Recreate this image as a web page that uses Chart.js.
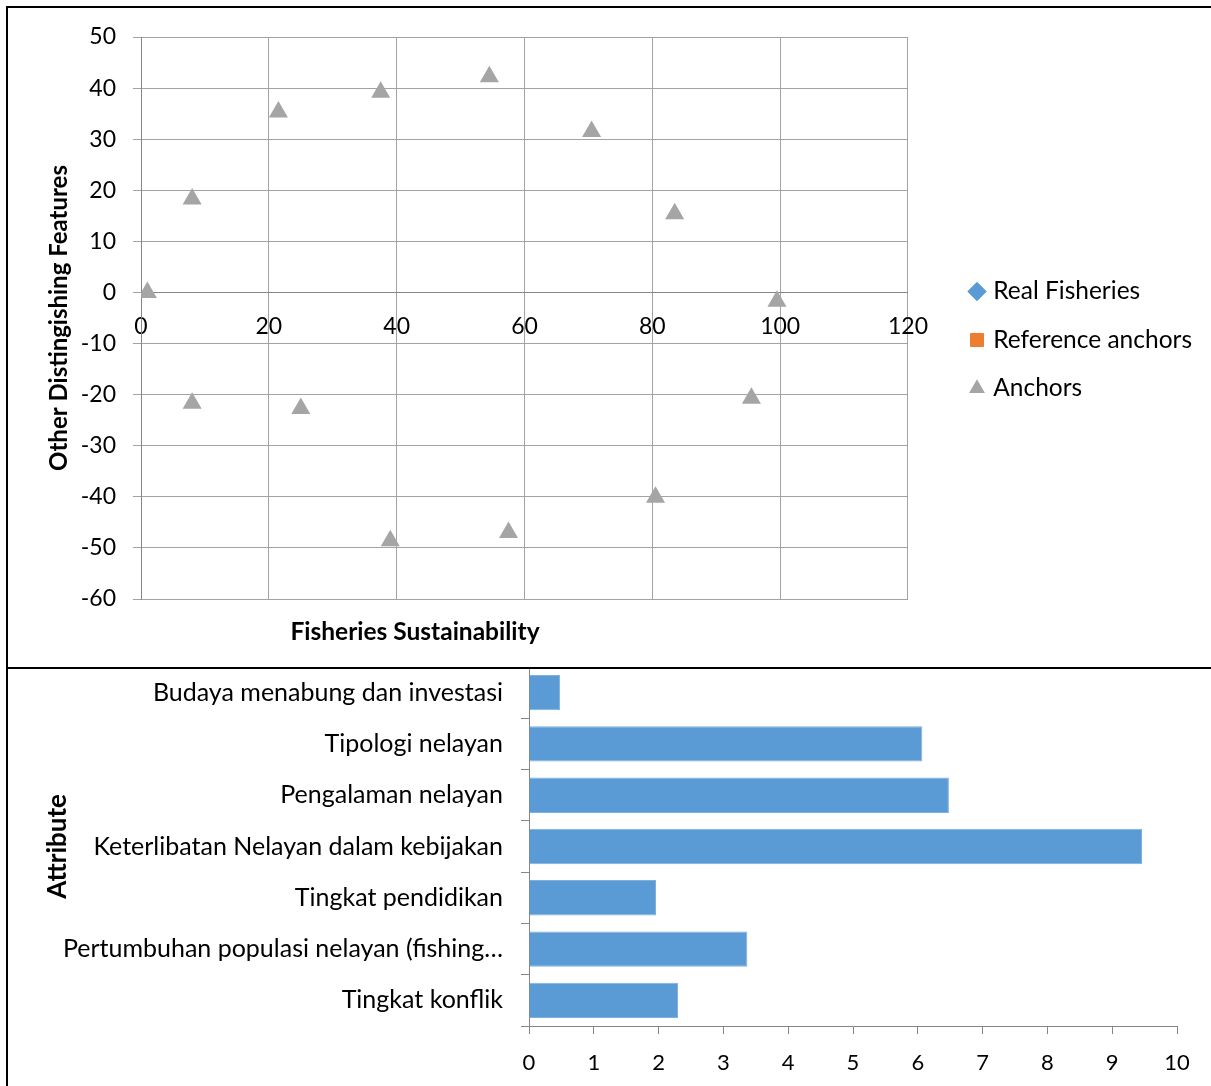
<!DOCTYPE html>
<html>
<head>
<meta charset="utf-8">
<title>RAPFISH ordination and leverage</title>
<script src="https://cdn.jsdelivr.net/npm/chart.js@4.4.0/dist/chart.umd.min.js"></script>
<style>
  body { margin: 0; background: #fff; }
  .line { position: absolute; background: #000; z-index: 2; }
  .box { position: absolute; }
</style>
</head>
<body>
<div class="line" style="left:6px;top:6px;width:1210px;height:2px"></div>
<div class="line" style="left:6px;top:6px;width:2px;height:1090px"></div>
<div class="line" style="left:6px;top:667px;width:1210px;height:2px"></div>
<div class="box" style="left:9px;top:9px;width:1202px;height:657px"><canvas id="ordinationChart"></canvas></div>
<div class="box" style="left:9px;top:667px;width:1202px;height:419px"><canvas id="leverageChart"></canvas></div>
<script>
// Ordinasi: titik anchor (sumbu X = keberlanjutan, sumbu Y = fitur lain)
const anchorX = [1, 8, 21.5, 37.5, 54.5, 70.5, 83.5, 99.5, 95.5, 80.5, 57.5, 39, 25, 8];
const anchorY = [0, 18.3, 35.3, 39.2, 42.2, 31.5, 15.4, -1.7, -20.7, -40.1, -47, -48.6, -22.7, -21.7];
const realFisheriesX = [];
const realFisheriesY = [];
const referenceX = [];
const referenceY = [];

// Leverage atribut
const attributes = [
  'Budaya menabung dan investasi',
  'Tipologi nelayan',
  'Pengalaman nelayan',
  'Keterlibatan Nelayan dalam kebijakan',
  'Tingkat pendidikan',
  'Pertumbuhan populasi nelayan (fishing…',
  'Tingkat konflik'
];
const leverage = [0.48, 6.07, 6.48, 9.46, 1.96, 3.37, 2.3];

const FONT = 'Lato';
const AXIS_GREY = '#868686';
const GRID_GREY = '#a3a3a3';

Chart.defaults.font.family = FONT;
Chart.defaults.color = '#000';
Chart.defaults.animation = false;

function toPoints(xs, ys) {
  return xs.map((x, i) => ({ x: x, y: ys[i] }));
}

// judul sumbu X digambar manual karena sumbu X memotong di y = 0
const xTitlePlugin = {
  id: 'xTitle',
  afterDraw(chart, args, opts) {
    const ctx = chart.ctx;
    ctx.save();
    ctx.font = 'bold ' + opts.size + 'px ' + FONT;
    ctx.fillStyle = '#000';
    ctx.textAlign = 'center';
    ctx.textBaseline = 'middle';
    ctx.fillText(opts.text, opts.x, chart.chartArea.bottom + opts.dy);
    ctx.restore();
  }
};

// geser legenda sedikit ke kanan & bawah
const legendShift = {
  id: 'legendShift',
  afterLayout(chart, args, opts) {
    const lg = chart.legend;
    const dx = opts.left - lg.left;
    lg.left += dx; lg.right += dx;
    lg.top += opts.dy; lg.bottom += opts.dy;
  }
};

function initCharts() {
  const ordCtx = document.getElementById('ordinationChart');
  new Chart(ordCtx, {
    type: 'scatter',
    data: {
      datasets: [{
        label: 'Real Fisheries',
        data: toPoints(realFisheriesX, realFisheriesY),
        pointStyle: 'rectRot',
        backgroundColor: '#5b9bd5',
        borderColor: '#5b9bd5',
        pointRadius: 9
      }, {
        label: 'Reference anchors',
        data: toPoints(referenceX, referenceY),
        pointStyle: 'rect',
        backgroundColor: '#ed7d31',
        borderColor: '#ed7d31',
        pointRadius: 9
      }, {
        label: 'Anchors',
        data: toPoints(anchorX, anchorY),
        pointStyle: 'triangle',
        backgroundColor: '#a5a5a5',
        borderColor: '#a5a5a5',
        borderWidth: 0,
        pointRadius: 11
      }]
    },
    options: {
      responsive: true,
      maintainAspectRatio: false,
      layout: { padding: { top: 28, bottom: 67, left: 0, right: 50 } },
      scales: {
        x: {
          type: 'linear',
          position: { y: 0 },
          min: 0,
          max: 120,
          ticks: { stepSize: 20, font: { size: 23 }, padding: 12, color: '#000' },
          grid: { color: GRID_GREY, tickLength: 8 },
          border: { color: AXIS_GREY }
        },
        y: {
          min: -60,
          max: 50,
          ticks: { stepSize: 10, font: { size: 23 }, padding: 17, color: '#000' },
          grid: { color: GRID_GREY, tickLength: 8 },
          border: { color: AXIS_GREY },
          title: {
            display: true,
            text: 'Other Distingishing Features',
            font: { size: 24, weight: 'bold' },
            color: '#000',
            padding: { top: 36 }
          },
          afterFit(scale) {
            scale.width = 132;
            scale.paddingTop = 0;
            scale.paddingBottom = 0;
          }
        }
      },
      plugins: {
        legend: {
          position: 'right',
          labels: {
            usePointStyle: true,
            boxWidth: 8,
            boxHeight: 13,
            padding: 24,
            font: { size: 24.5 },
            color: '#000'
          }
        },
        legendShift: { left: 940, dy: 22 },
        xTitle: { text: 'Fisheries Sustainability', size: 24.5, x: 406, dy: 33 },
        tooltip: { enabled: false }
      }
    },
    plugins: [xTitlePlugin, legendShift]
  });

  const levCtx = document.getElementById('leverageChart');
  new Chart(levCtx, {
    type: 'bar',
    data: {
      labels: attributes,
      datasets: [{
        label: 'Leverage',
        data: leverage,
        backgroundColor: '#5b9bd5',
        borderColor: '#7eb0de',
        borderWidth: 1,
        categoryPercentage: 1,
        barPercentage: 0.69
      }]
    },
    options: {
      indexAxis: 'y',
      responsive: true,
      maintainAspectRatio: false,
      layout: { padding: { top: 0, left: 0, right: 34, bottom: 0 } },
      scales: {
        x: {
          min: 0,
          max: 10,
          ticks: { stepSize: 1, font: { size: 22 }, padding: 16, color: '#000' },
          grid: { drawOnChartArea: false, color: AXIS_GREY, tickLength: 8 },
          border: { color: AXIS_GREY },
          afterFit(scale) { scale.height = 60; }
        },
        y: {
          ticks: { font: { size: 25 }, padding: 18, color: '#000' },
          grid: { drawOnChartArea: false, color: AXIS_GREY, tickLength: 8 },
          border: { color: AXIS_GREY },
          title: {
            display: true,
            text: 'Attribute',
            font: { size: 26, weight: 'bold' },
            color: '#000',
            padding: { top: 33 }
          },
          afterFit(scale) {
            // kategori harus mengisi penuh dari garis pemisah sampai sumbu X
            scale.width = 520;
            scale.paddingTop = 0;
            scale.paddingBottom = 0;
          }
        }
      },
      plugins: {
        legend: { display: false },
        tooltip: { enabled: false }
      }
    }
  });
}

document.addEventListener('DOMContentLoaded', initCharts);
</script>
</body>
</html>
